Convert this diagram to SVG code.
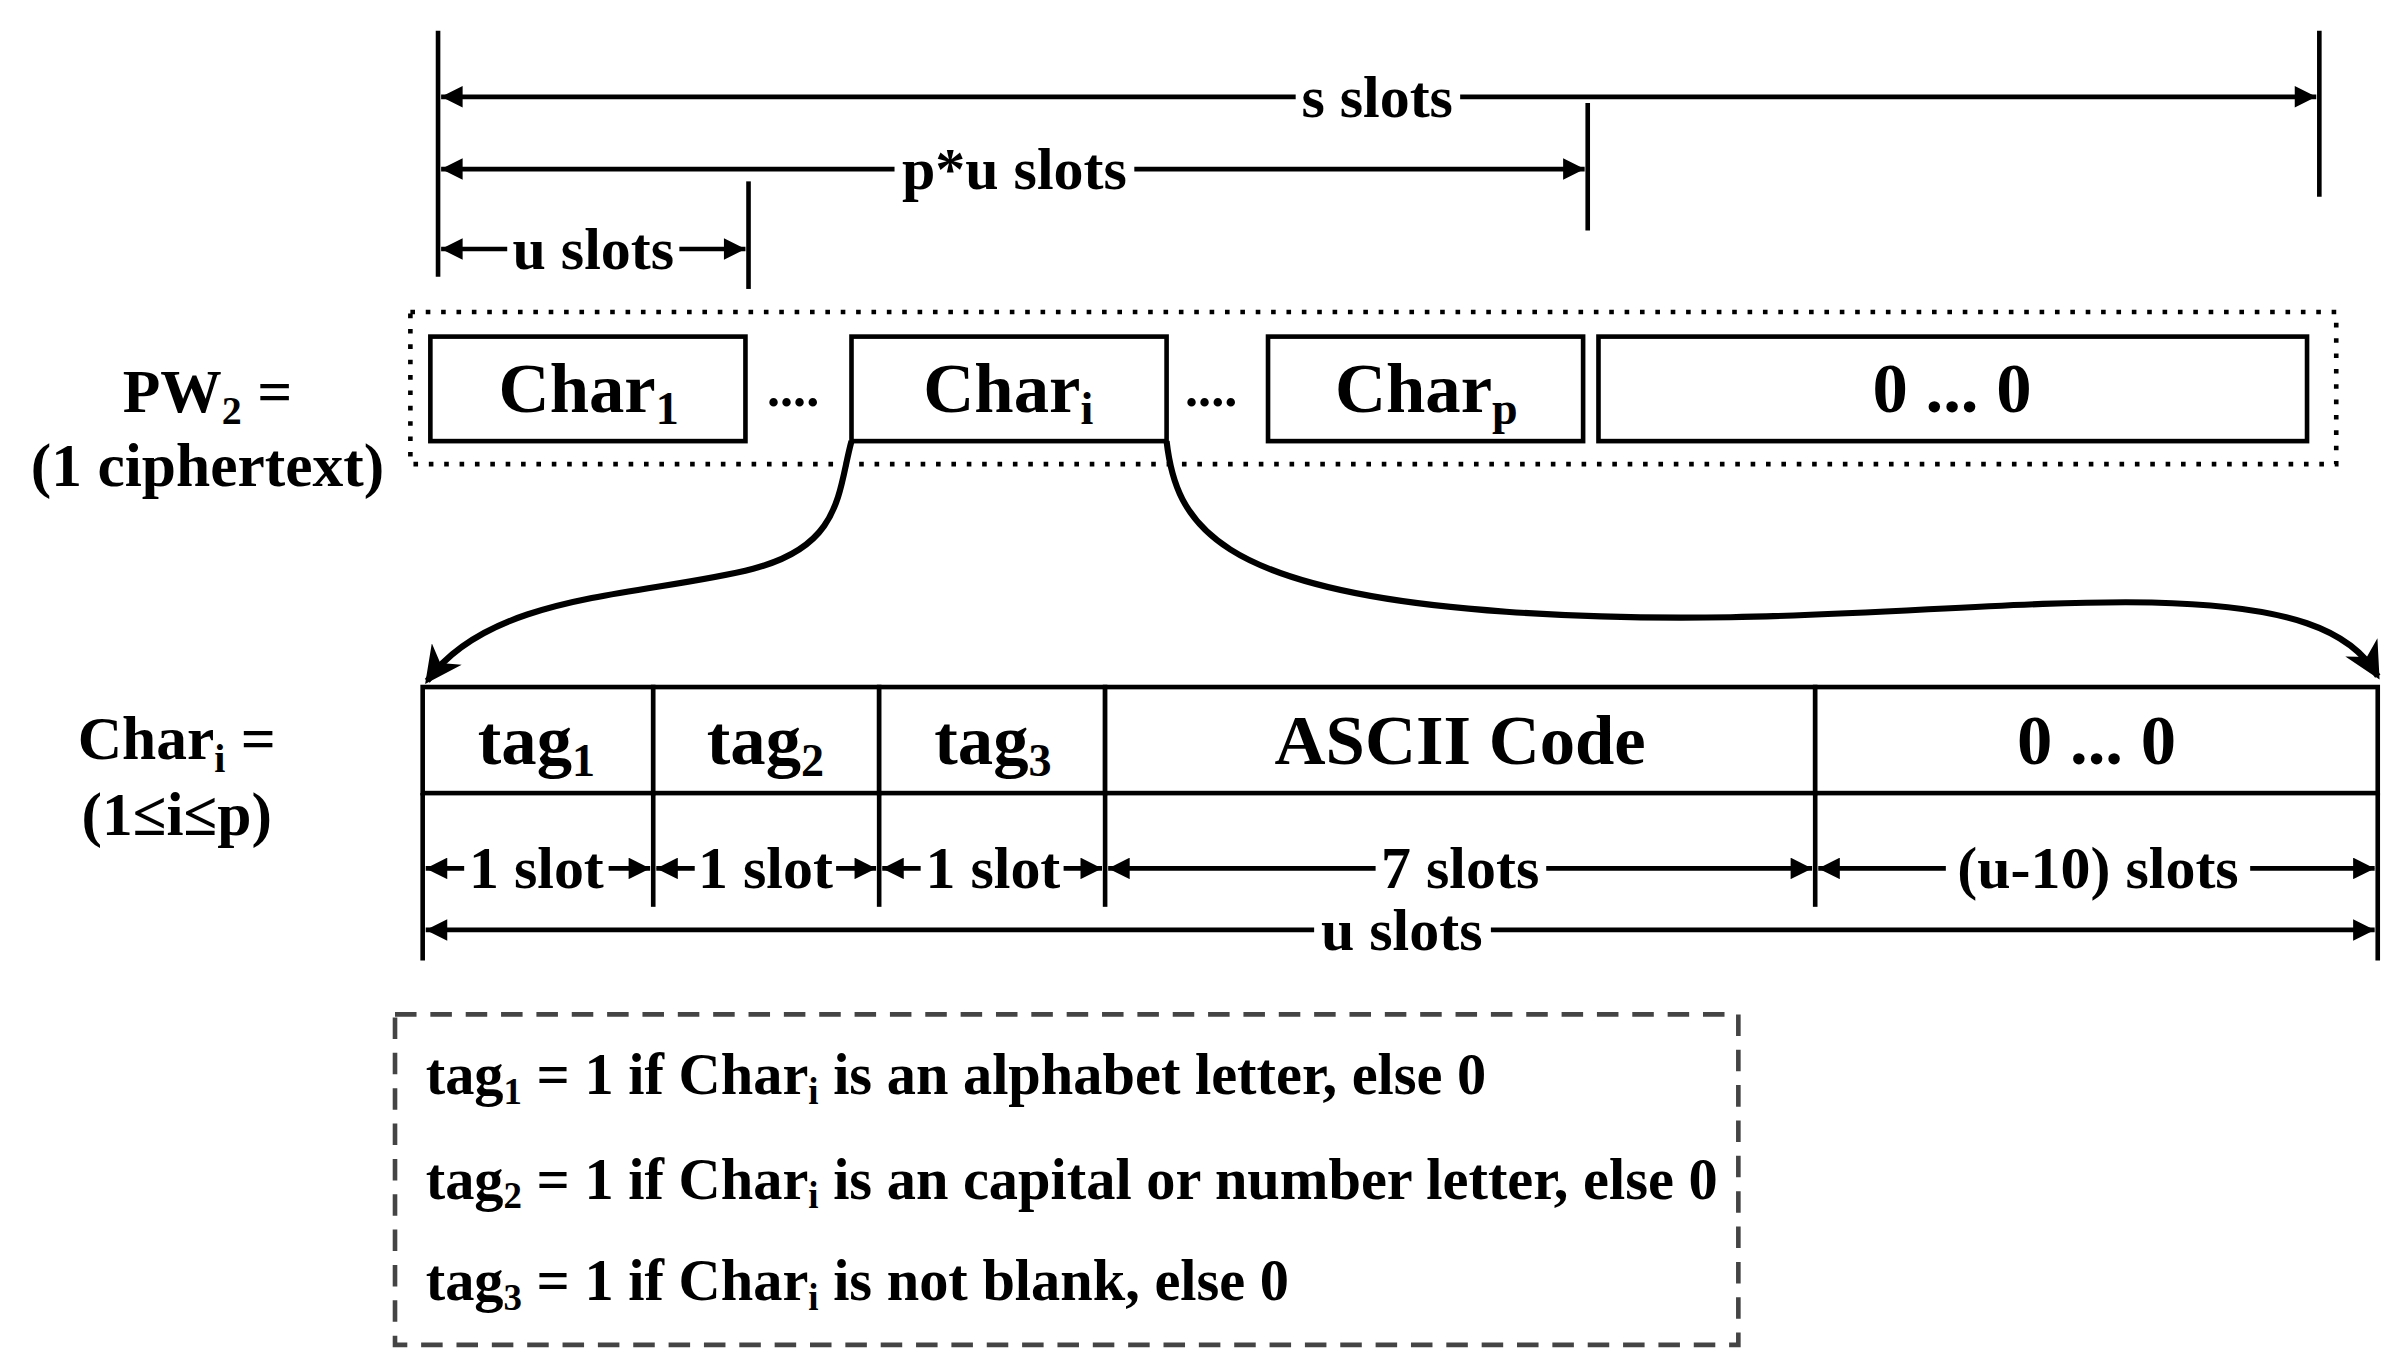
<svg xmlns="http://www.w3.org/2000/svg" width="2406" height="1372" viewBox="0 0 2406 1372">
<style>
text{font-family:"Liberation Serif","Times New Roman",serif;font-weight:bold;fill:#000}
.b{fill:#fff;stroke:#000;stroke-width:3}
.l{stroke:#000;stroke-width:3;fill:none}
.big{font-size:46px;text-anchor:middle}
.m{font-size:39px;text-anchor:middle}
.s{font-size:38px}
</style>
<defs>
<marker id="a" viewBox="0 0 10 10" refX="10" refY="5" markerWidth="18" markerHeight="14" markerUnits="userSpaceOnUse" orient="auto-start-reverse"><path d="M0,0L10,5L0,10z"/></marker>
<marker id="c" viewBox="0 0 10 10" refX="9" refY="5" markerWidth="28" markerHeight="24" markerUnits="userSpaceOnUse" orient="auto"><path d="M0,0L10,5L0,10L3,5z"/></marker>
</defs>
<rect width="2406" height="1372" fill="#fff"/>
<g transform="scale(1.537)">
<g id="connectors" class="l">
<line x1="285" y1="20" x2="285" y2="180"/>
<line x1="1509" y1="20" x2="1509" y2="128"/>
<line x1="1033" y1="67" x2="1033" y2="150"/>
<line x1="487" y1="118" x2="487" y2="188"/>
<line x1="287" y1="63" x2="843" y2="63" marker-start="url(#a)"/>
<line x1="950" y1="63" x2="1507" y2="63" marker-end="url(#a)"/>
<line x1="287" y1="110" x2="582" y2="110" marker-start="url(#a)"/>
<line x1="738" y1="110" x2="1031" y2="110" marker-end="url(#a)"/>
<line x1="287" y1="162" x2="330" y2="162" marker-start="url(#a)"/>
<line x1="442" y1="162" x2="485" y2="162" marker-end="url(#a)"/>
<path d="M554,287 C545,320 548,355 490,370 C420,388 320,385 278,443" stroke-width="4" marker-end="url(#c)"/>
<path d="M759,287 C765,340 790,385 980,398 C1150,410 1280,390 1400,392 C1490,394 1530,410 1547,440" stroke-width="4" marker-end="url(#c)"/>
<line x1="275" y1="516" x2="275" y2="625"/>
<line x1="1547" y1="516" x2="1547" y2="625"/>
<line x1="425" y1="516" x2="425" y2="590"/>
<line x1="572" y1="516" x2="572" y2="590"/>
<line x1="719" y1="516" x2="719" y2="590"/>
<line x1="1181" y1="516" x2="1181" y2="590"/>
<line x1="277" y1="565" x2="302" y2="565" marker-start="url(#a)"/>
<line x1="396" y1="565" x2="423" y2="565" marker-end="url(#a)"/>
<line x1="427" y1="565" x2="452" y2="565" marker-start="url(#a)"/>
<line x1="544" y1="565" x2="570" y2="565" marker-end="url(#a)"/>
<line x1="574" y1="565" x2="599" y2="565" marker-start="url(#a)"/>
<line x1="692" y1="565" x2="717" y2="565" marker-end="url(#a)"/>
<line x1="721" y1="565" x2="895" y2="565" marker-start="url(#a)"/>
<line x1="1006" y1="565" x2="1179" y2="565" marker-end="url(#a)"/>
<line x1="1183" y1="565" x2="1266" y2="565" marker-start="url(#a)"/>
<line x1="1464" y1="565" x2="1545" y2="565" marker-end="url(#a)"/>
<line x1="277" y1="605" x2="855" y2="605" marker-start="url(#a)"/>
<line x1="970" y1="605" x2="1545" y2="605" marker-end="url(#a)"/>
</g>
<text class="m" x="896" y="76">s slots</text>
<text class="m" x="660" y="123">p*u slots</text>
<text class="m" x="386" y="175">u slots</text>
<g id="pw2">
<rect x="267" y="203" width="1253" height="99" fill="none" stroke="#000" stroke-width="3" stroke-dasharray="3,7"/>
<text class="big" x="135" y="268" style="font-size:40px">PW<tspan font-size="26" dy="8">2</tspan><tspan dy="-8"> =</tspan></text>
<text class="big" x="135" y="316" style="font-size:40px">(1 ciphertext)</text>
</g>
<g id="char1"><rect class="b" x="280" y="219" width="205" height="68"/><text class="big" x="383" y="268">Char<tspan font-size="30" dy="8">1</tspan></text></g>
<text class="big" x="516" y="264" style="font-size:34px">....</text>
<g id="chari"><rect class="b" x="554" y="219" width="205" height="68"/><text class="big" x="656" y="268">Char<tspan font-size="30" dy="8">i</tspan></text></g>
<text class="big" x="788" y="264" style="font-size:34px">....</text>
<g id="charp"><rect class="b" x="825" y="219" width="205" height="68"/><text class="big" x="928" y="268">Char<tspan font-size="30" dy="8">p</tspan></text></g>
<g id="zeros1"><rect class="b" x="1040" y="219" width="461" height="68"/><text class="big" x="1270" y="268">0 ... 0</text></g>
<g id="charidef">
<text class="big" x="115" y="494" style="font-size:40px">Char<tspan font-size="26" dy="8">i</tspan><tspan dy="-8"> =</tspan></text>
<text class="big" x="115" y="543" style="font-size:40px">(1≤i≤p)</text>
</g>
<g id="tag1"><rect class="b" x="275" y="447" width="150" height="69"/><text class="big" x="349" y="497">tag<tspan font-size="30" dy="8">1</tspan></text></g>
<g id="tag2"><rect class="b" x="425" y="447" width="147" height="69"/><text class="big" x="498" y="497">tag<tspan font-size="30" dy="8">2</tspan></text></g>
<g id="tag3"><rect class="b" x="572" y="447" width="147" height="69"/><text class="big" x="646" y="497">tag<tspan font-size="30" dy="8">3</tspan></text></g>
<g id="ascii"><rect class="b" x="719" y="447" width="462" height="69"/><text class="big" x="950" y="497">ASCII Code</text></g>
<g id="zeros2"><rect class="b" x="1181" y="447" width="366" height="69"/><text class="big" x="1364" y="497">0 ... 0</text></g>
<g>
<text class="m" x="349" y="578">1 slot</text>
<text class="m" x="498" y="578">1 slot</text>
<text class="m" x="646" y="578">1 slot</text>
<text class="m" x="950" y="578">7 slots</text>
<text class="m" x="1365" y="578">(u-10) slots</text>
<text class="m" x="912" y="618">u slots</text>
</g>
<g id="legend">
<rect x="257" y="660" width="874" height="215" fill="none" stroke="#444" stroke-width="3" stroke-dasharray="14,9"/>
<text class="s" x="277" y="712">tag<tspan font-size="24" dy="6">1</tspan><tspan dy="-6"> = 1 if Char</tspan><tspan font-size="24" dy="6">i</tspan><tspan dy="-6"> is an alphabet letter, else 0</tspan></text>
<text class="s" x="277" y="780">tag<tspan font-size="24" dy="6">2</tspan><tspan dy="-6"> = 1 if Char</tspan><tspan font-size="24" dy="6">i</tspan><tspan dy="-6"> is an capital or number letter, else 0</tspan></text>
<text class="s" x="277" y="846">tag<tspan font-size="24" dy="6">3</tspan><tspan dy="-6"> = 1 if Char</tspan><tspan font-size="24" dy="6">i</tspan><tspan dy="-6"> is not blank, else 0</tspan></text>
</g>
</g>
</svg>
